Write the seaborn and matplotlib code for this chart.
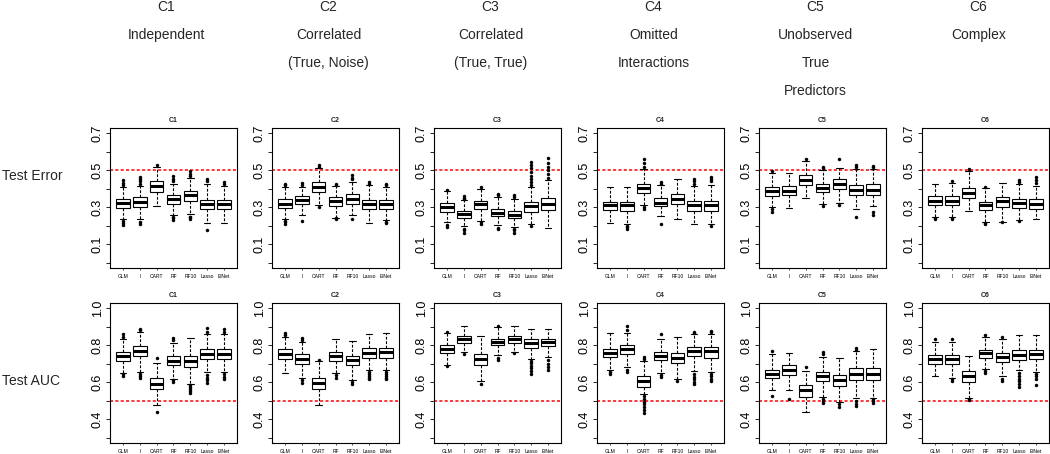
import numpy as np
import pandas as pd
import matplotlib
matplotlib.use("Agg")
import matplotlib.pyplot as plt
import seaborn as sns

models = ["GLM", "I", "CART", "RF", "RF10", "Lasso", "ElNet"]
scenarios = ["C1", "C2", "C3", "C4", "C5", "C6"]
headers = [
    ["C1", "Independent"],
    ["C2", "Correlated", "(True, Noise)"],
    ["C3", "Correlated", "(True, True)"],
    ["C4", "Omitted", "Interactions"],
    ["C5", "Unobserved", "True", "Predictors"],
    ["C6", "Complex"],
]

# Test error: whisker low, Q1, median, Q3, whisker high (one row per scenario)
err_lo = [[0.235, 0.235, 0.306, 0.257, 0.262, 0.216, 0.216],
          [0.235, 0.260, 0.311, 0.243, 0.260, 0.216, 0.230],
          [0.221, 0.198, 0.225, 0.203, 0.194, 0.207, 0.189],
          [0.217, 0.212, 0.311, 0.252, 0.234, 0.212, 0.212],
          [0.302, 0.298, 0.351, 0.315, 0.325, 0.288, 0.307],
          [0.248, 0.248, 0.279, 0.221, 0.221, 0.230, 0.235]]
err_q1 = [[0.298, 0.302, 0.380, 0.316, 0.336, 0.288, 0.288],
          [0.297, 0.315, 0.381, 0.307, 0.320, 0.288, 0.288],
          [0.275, 0.243, 0.288, 0.252, 0.243, 0.275, 0.284],
          [0.284, 0.280, 0.378, 0.306, 0.318, 0.280, 0.280],
          [0.363, 0.365, 0.419, 0.383, 0.397, 0.365, 0.365],
          [0.311, 0.311, 0.350, 0.284, 0.302, 0.297, 0.293]]
err_med = [[0.322, 0.329, 0.414, 0.342, 0.365, 0.315, 0.316],
           [0.320, 0.338, 0.410, 0.333, 0.347, 0.318, 0.318],
           [0.302, 0.262, 0.316, 0.271, 0.260, 0.307, 0.315],
           [0.311, 0.311, 0.405, 0.325, 0.347, 0.311, 0.311],
           [0.387, 0.387, 0.446, 0.406, 0.424, 0.392, 0.392],
           [0.334, 0.334, 0.379, 0.311, 0.333, 0.324, 0.320]]
err_q3 = [[0.345, 0.356, 0.440, 0.365, 0.390, 0.338, 0.338],
          [0.343, 0.360, 0.435, 0.354, 0.369, 0.338, 0.338],
          [0.324, 0.279, 0.333, 0.293, 0.280, 0.329, 0.350],
          [0.329, 0.329, 0.428, 0.350, 0.372, 0.333, 0.333],
          [0.410, 0.414, 0.473, 0.428, 0.450, 0.419, 0.423],
          [0.360, 0.360, 0.405, 0.329, 0.354, 0.347, 0.347]]
err_hi = [[0.410, 0.415, 0.518, 0.428, 0.459, 0.428, 0.415],
          [0.410, 0.410, 0.510, 0.415, 0.437, 0.419, 0.410],
          [0.388, 0.338, 0.400, 0.356, 0.347, 0.410, 0.446],
          [0.410, 0.410, 0.509, 0.419, 0.455, 0.415, 0.419],
          [0.487, 0.487, 0.549, 0.500, 0.514, 0.505, 0.509],
          [0.423, 0.433, 0.495, 0.406, 0.430, 0.426, 0.414]]
err_out = [
    [[0.205, 0.215, 0.225, 0.42, 0.43, 0.445], [0.21, 0.222, 0.425, 0.44, 0.45, 0.464], [0.527],
     [0.233, 0.24, 0.245, 0.44, 0.455, 0.468], [0.235, 0.245, 0.25, 0.47, 0.48, 0.495],
     [0.176, 0.44, 0.455], [0.425, 0.437]],
    [[0.21, 0.22, 0.228, 0.42, 0.428], [0.225, 0.42, 0.43], [0.30, 0.52, 0.53],
     [0.235, 0.24, 0.422, 0.428], [0.239, 0.45, 0.46, 0.473], [0.428, 0.437],
     [0.217, 0.222, 0.42, 0.428]],
    [[0.194, 0.205, 0.395], [0.163, 0.175, 0.185, 0.345, 0.352, 0.36], [0.212, 0.218, 0.41],
     [0.18, 0.19, 0.365, 0.374], [0.163, 0.175, 0.185, 0.355, 0.365],
     [0.2, 0.42, 0.435, 0.45, 0.47, 0.49, 0.51, 0.53, 0.545],
     [0.46, 0.48, 0.50, 0.52, 0.54, 0.567]],
    [[], [0.185, 0.195, 0.2], [0.293, 0.3, 0.52, 0.54, 0.563], [0.212, 0.428, 0.437], [],
     [0.425, 0.44, 0.455], [0.198, 0.44, 0.455, 0.464]],
    [[0.275, 0.29, 0.495], [], [0.563], [0.307, 0.51, 0.518], [0.311, 0.559],
     [0.248, 0.515, 0.527], [0.257, 0.275, 0.515, 0.523]],
    [[0.235, 0.242], [0.235, 0.242, 0.442], [0.509], [0.207, 0.214, 0.41], [0.218],
     [0.225, 0.435, 0.446], [0.43, 0.445, 0.464]],
]

# Test AUC
auc_lo = [[0.651, 0.656, 0.476, 0.620, 0.593, 0.656, 0.656],
          [0.651, 0.625, 0.476, 0.651, 0.611, 0.665, 0.665],
          [0.692, 0.764, 0.607, 0.746, 0.764, 0.724, 0.737],
          [0.665, 0.683, 0.539, 0.651, 0.615, 0.661, 0.656],
          [0.557, 0.557, 0.440, 0.521, 0.494, 0.516, 0.516],
          [0.633, 0.625, 0.517, 0.669, 0.633, 0.665, 0.656]]
auc_q1 = [[0.714, 0.741, 0.562, 0.692, 0.683, 0.728, 0.728],
          [0.724, 0.701, 0.566, 0.715, 0.692, 0.733, 0.733],
          [0.759, 0.814, 0.692, 0.800, 0.814, 0.787, 0.795],
          [0.737, 0.755, 0.575, 0.719, 0.705, 0.741, 0.733],
          [0.625, 0.638, 0.521, 0.606, 0.580, 0.611, 0.611],
          [0.701, 0.701, 0.602, 0.732, 0.710, 0.719, 0.724]]
auc_med = [[0.741, 0.769, 0.589, 0.717, 0.714, 0.755, 0.755],
           [0.751, 0.724, 0.598, 0.742, 0.719, 0.760, 0.762],
           [0.778, 0.834, 0.724, 0.818, 0.832, 0.813, 0.816],
           [0.760, 0.778, 0.606, 0.744, 0.732, 0.768, 0.768],
           [0.647, 0.665, 0.557, 0.633, 0.611, 0.647, 0.647],
           [0.724, 0.724, 0.633, 0.759, 0.737, 0.746, 0.750]]
auc_q3 = [[0.764, 0.795, 0.625, 0.742, 0.742, 0.777, 0.779],
          [0.777, 0.750, 0.625, 0.764, 0.742, 0.787, 0.787],
          [0.800, 0.850, 0.755, 0.836, 0.850, 0.831, 0.836],
          [0.782, 0.800, 0.633, 0.764, 0.760, 0.791, 0.791],
          [0.665, 0.692, 0.584, 0.656, 0.638, 0.678, 0.678],
          [0.746, 0.748, 0.661, 0.773, 0.759, 0.773, 0.773]]
auc_hi = [[0.831, 0.872, 0.705, 0.814, 0.840, 0.858, 0.858],
          [0.845, 0.818, 0.714, 0.836, 0.822, 0.863, 0.867],
          [0.868, 0.903, 0.849, 0.899, 0.903, 0.890, 0.890],
          [0.867, 0.867, 0.715, 0.831, 0.845, 0.858, 0.863],
          [0.755, 0.760, 0.661, 0.737, 0.732, 0.768, 0.777],
          [0.818, 0.818, 0.741, 0.845, 0.836, 0.854, 0.854]]
auc_out = [
    [[0.633, 0.642, 0.845, 0.858], [0.625, 0.635, 0.645, 0.88, 0.89], [0.44, 0.732],
     [0.602, 0.61, 0.828, 0.84], [0.543, 0.555, 0.565, 0.575, 0.585],
     [0.597, 0.61, 0.625, 0.64, 0.872, 0.895], [0.615, 0.63, 0.645, 0.872, 0.89]],
    [[0.855, 0.868], [0.597, 0.61, 0.83, 0.841], [0.719], [0.625, 0.64], [0.588, 0.6],
     [0.615, 0.625, 0.635, 0.645, 0.655], [0.615, 0.625, 0.635, 0.645, 0.655]],
    [[0.687, 0.872], [0.755], [0.593], [0.719, 0.73, 0.903], [0.759],
     [0.647, 0.66, 0.675, 0.69, 0.705, 0.715], [0.665, 0.68, 0.7, 0.72]],
    [[0.643, 0.655], [0.656, 0.668, 0.88, 0.903],
     [0.435, 0.45, 0.465, 0.48, 0.495, 0.51, 0.525, 0.725, 0.737],
     [0.629, 0.64, 0.863], [0.607], [0.589, 0.6, 0.615, 0.63, 0.645, 0.865, 0.872],
     [0.607, 0.62, 0.635, 0.645, 0.87, 0.877]],
    [[0.525, 0.768], [0.512], [0.683], [0.49, 0.5, 0.51, 0.75, 0.764], [0.467, 0.48],
     [0.472, 0.485, 0.5, 0.775, 0.786], [0.489, 0.5, 0.508]],
    [[0.832], [0.607, 0.615, 0.832], [0.503, 0.51], [0.651, 0.66, 0.854], [0.607, 0.62, 0.845],
     [0.575, 0.59, 0.605, 0.62, 0.635, 0.648], [0.584, 0.62, 0.635, 0.645]],
]

err_ticks = [0.0, 0.1, 0.2, 0.3, 0.4, 0.5, 0.6, 0.7]
err_labels = ["", "0.1", "", "0.3", "", "0.5", "", "0.7"]
auc_ticks = [0.3, 0.4, 0.5, 0.6, 0.7, 0.8, 0.9, 1.0]
auc_labels = ["", "0.4", "", "0.6", "", "0.8", "", "1.0"]


def summary_frame(lo, q1, med, q3, hi):
    # five values per box: with whis=(0, 100) they give exactly these quartiles/whiskers
    rows = []
    for i, sc in enumerate(scenarios):
        for j, m in enumerate(models):
            for v in (lo[i][j], q1[i][j], med[i][j], q3[i][j], hi[i][j]):
                rows.append((sc, m, v))
    return pd.DataFrame(rows, columns=["scenario", "model", "value"])


def outlier_frame(out):
    rows = []
    for i, sc in enumerate(scenarios):
        for j, m in enumerate(models):
            for v in out[i][j]:
                rows.append((sc, m, v))
    return pd.DataFrame(rows, columns=["scenario", "model", "value"])


sns.set_style("white")
plt.rcParams["font.family"] = ["Liberation Sans", "DejaVu Sans"]

W, H = 1050, 454
fig = plt.figure(figsize=(W / 100, H / 100), dpi=100)

lefts = [110, 272, 434, 597, 759, 922]
panel_w, panel_h = 127, 140
rows_spec = [
    ("Test Error", summary_frame(err_lo, err_q1, err_med, err_q3, err_hi),
     outlier_frame(err_out), err_ticks, err_labels, (-0.028, 0.728), 128, 176),
    ("Test AUC", summary_frame(auc_lo, auc_q1, auc_med, auc_q3, auc_hi),
     outlier_frame(auc_out), auc_ticks, auc_labels, (0.272, 1.028), 303, 381),
]

for row_name, box_df, out_df, ticks, labels, ylim, top, label_y in rows_spec:
    fig.text(2 / W, 1 - label_y / H, row_name, fontsize=10, ha="left", va="center")
    for c, sc in enumerate(scenarios):
        ax = fig.add_axes([lefts[c] / W, 1 - (top + panel_h) / H, panel_w / W, panel_h / H])
        ax.axhline(0.5, color="red", linestyle=(0, (2, 1.5)), linewidth=1.1, zorder=0)
        sns.boxplot(
            data=box_df[box_df["scenario"] == sc], x="model", y="value", order=models,
            whis=(0, 100), width=0.8, color="white", linecolor="black", linewidth=0.8,
            showfliers=False, medianprops=dict(linewidth=2.2),
            whiskerprops=dict(linestyle=(0, (2.5, 1.5))), ax=ax,
        )
        sns.stripplot(
            data=out_df[out_df["scenario"] == sc], x="model", y="value", order=models,
            jitter=False, color="black", size=2.5, linewidth=0, ax=ax,
        )
        ax.set_xlim(-0.78, 6.78)
        ax.set_ylim(*ylim)
        ax.set_yticks(ticks)
        ax.set_yticklabels(labels, rotation=90, va="center", fontsize=9)
        ax.set_xticks(range(len(models)))
        ax.set_xticklabels(models, fontsize=3.6)
        ax.tick_params(axis="y", left=True, length=3, width=0.6, pad=1.5, colors="black")
        ax.tick_params(axis="x", bottom=True, length=1.5, width=0.5, pad=3, colors="black")
        ax.set_xlabel("")
        ax.set_ylabel("")
        ax.set_title(sc, fontsize=5, fontweight="bold", pad=4)
        for s in ax.spines.values():
            s.set_color("black")
            s.set_linewidth(0.8)

# column headers above the top row
for c, lines in enumerate(headers):
    cx = (lefts[c] + panel_w / 2 - 7) / W
    for k, txt in enumerate(lines):
        fig.text(cx, 1 - (7 + k * 28) / H, txt, fontsize=10, ha="center", va="center")

fig.savefig("out.png", dpi=100)
